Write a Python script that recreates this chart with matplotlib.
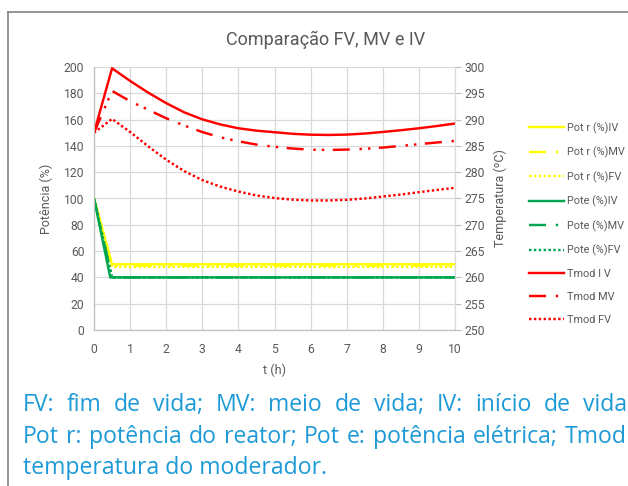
import matplotlib
matplotlib.use("Agg")
import matplotlib.pyplot as plt
from matplotlib.lines import Line2D

# ---- dados ----
t_tmod = [0, 0.5, 1, 1.5, 2, 2.5, 3, 3.5, 4, 4.5, 5, 5.5, 6, 6.5, 7, 7.5, 8, 8.5, 9, 9.5, 10]
tmod_iv = [287.5, 299.75, 297.35, 295.13, 293.13, 291.38, 290.05, 289.08, 288.35, 287.9, 287.6,
           287.3, 287.13, 287.08, 287.15, 287.35, 287.65, 287.98, 288.35, 288.78, 289.25]
tmod_mv = [287.5, 295.45, 293.5, 291.88, 290.25, 288.88, 287.63, 286.63, 285.88, 285.25, 284.83,
           284.5, 284.28, 284.23, 284.3, 284.45, 284.68, 285.0, 285.33, 285.65, 285.95]
tmod_fv = [287.5, 290.13, 287.65, 284.93, 282.38, 280.2, 278.5, 277.25, 276.33, 275.58, 275.08,
           274.78, 274.63, 274.63, 274.75, 275.0, 275.38, 275.75, 276.2, 276.63, 277.03]

t_pot = [0, 0.5, 10]
t_pote_iv = [0, 0.45, 10]
potr_iv = [100, 50, 50]
potr_mv = [100, 49, 49]
potr_fv = [100, 48, 48]
pote_iv = [100, 40, 40]
pote_mv = [100, 40, 40]
pote_fv = [100, 40, 40]

labels = ["Pot r (%)IV", "Pot r (%)MV", "Pot r (%)FV",
          "Pote (%)IV", "Pote (%)MV", "Pote (%)FV",
          "Tmod I V", "Tmod MV", "Tmod FV"]

W, H = 628, 486
GRAY = "#595959"
YEL = "#FFFF00"
GRN = "#00A64F"
RED = "#FF0000"
DASHDOT = (0, (7, 4, 1, 2.5, 1, 3.5))
DOT = (0, (1, 1))

plt.rcParams["font.family"] = ["Roboto", "DejaVu Sans"]

fig = plt.figure(figsize=(W / 100, H / 100), dpi=100)
ax = fig.add_axes([94 / W, 1 - 330 / H, (455 - 94) / W, (330 - 67) / H])
ax2 = ax.twinx()

lw = 1.75
h = []
h += ax.plot(t_pot, potr_iv, color=YEL, lw=lw)
h += ax.plot(t_pot, potr_mv, color=YEL, lw=lw, linestyle=DASHDOT)
h += ax.plot(t_pot, potr_fv, color=YEL, lw=lw, linestyle=DOT)
h += ax.plot(t_pote_iv, pote_iv, color=GRN, lw=lw)
h += ax.plot(t_pot, pote_mv, color=GRN, lw=lw, linestyle=DASHDOT)
h += ax.plot(t_pot, pote_fv, color=GRN, lw=lw, linestyle=DOT)
h += ax2.plot(t_tmod, tmod_iv, color=RED, lw=lw)
h += ax2.plot(t_tmod, tmod_mv, color=RED, lw=lw, linestyle=DASHDOT)
h += ax2.plot(t_tmod, tmod_fv, color=RED, lw=lw, linestyle=DOT)

ax.set_xlim(0, 10)
ax.set_ylim(0, 200)
ax2.set_ylim(250, 300)
ax.set_xticks(range(0, 11))
ax.set_yticks(range(0, 201, 20))
ax2.set_yticks(range(250, 301, 5))
ax.grid(True, color="#D9D9D9", lw=0.9)
ax.set_axisbelow(True)

for a in (ax, ax2):
    a.spines["top"].set_visible(False)
    a.spines["left"].set_color("#BFBFBF")
    a.spines["bottom"].set_color("#BFBFBF")
    a.spines["right"].set_color("#D9D9D9")
ax.tick_params(axis="both", length=0, labelsize=8.7, labelcolor=GRAY, pad=7)
ax.tick_params(axis="x", pad=9)
ax2.tick_params(axis="y", length=4, color="#BFBFBF", labelsize=8.7, labelcolor=GRAY, pad=3)

ax.set_xlabel("t (h)", fontsize=9, color=GRAY, labelpad=6)
ax.set_ylabel("Potência (%)", fontsize=9, color=GRAY, labelpad=8)
ax2.set_ylabel("Temperatura (ºC)", fontsize=9, color=GRAY, labelpad=6)

fig.text(326 / W, 1 - 40 / H, "Comparação FV, MV e IV", fontsize=13, color=GRAY,
         ha="center", va="center")

fig.legend(h, labels, loc="upper left", bbox_to_anchor=(529 / W, 1 - 122 / H),
           frameon=False, fontsize=7.8, labelcolor=GRAY, handlelength=3.2,
           handletextpad=0.3, labelspacing=1.2, borderpad=0, borderaxespad=0)

# moldura do grafico
fig.add_artist(Line2D([8 / W, 8 / W], [0, 1 - 12 / H], color="#808080", lw=1.2))
fig.add_artist(Line2D([8 / W, 1], [1 - 12 / H, 1 - 12 / H], color="#808080", lw=1.2))

# legenda em texto abaixo
BLUE = "#1D9AD6"
cap_font = dict(fontsize=16.6, color=BLUE, family=["Open Sans", "DejaVu Sans"], va="baseline")


def justified(words, ybase, x0=23, x1=627):
    texts = [fig.text(0, 1 - ybase / H, w, **cap_font) for w in words]
    r = fig.canvas.get_renderer()
    widths = [t.get_window_extent(r).width for t in texts]
    gap = (x1 - x0 - sum(widths)) / (len(words) - 1)
    x = x0
    for t, w in zip(texts, widths):
        t.set_x(x / W)
        x += w + gap


justified("FV: fim de vida; MV: meio de vida; IV: início de vida".split(), 411)
justified("Pot r: potência do reator; Pot e: potência elétrica; Tmod".split(), 443)
fig.text(23 / W, 1 - 474 / H, "temperatura do moderador.", **cap_font)

fig.savefig("out.png", dpi=100)
